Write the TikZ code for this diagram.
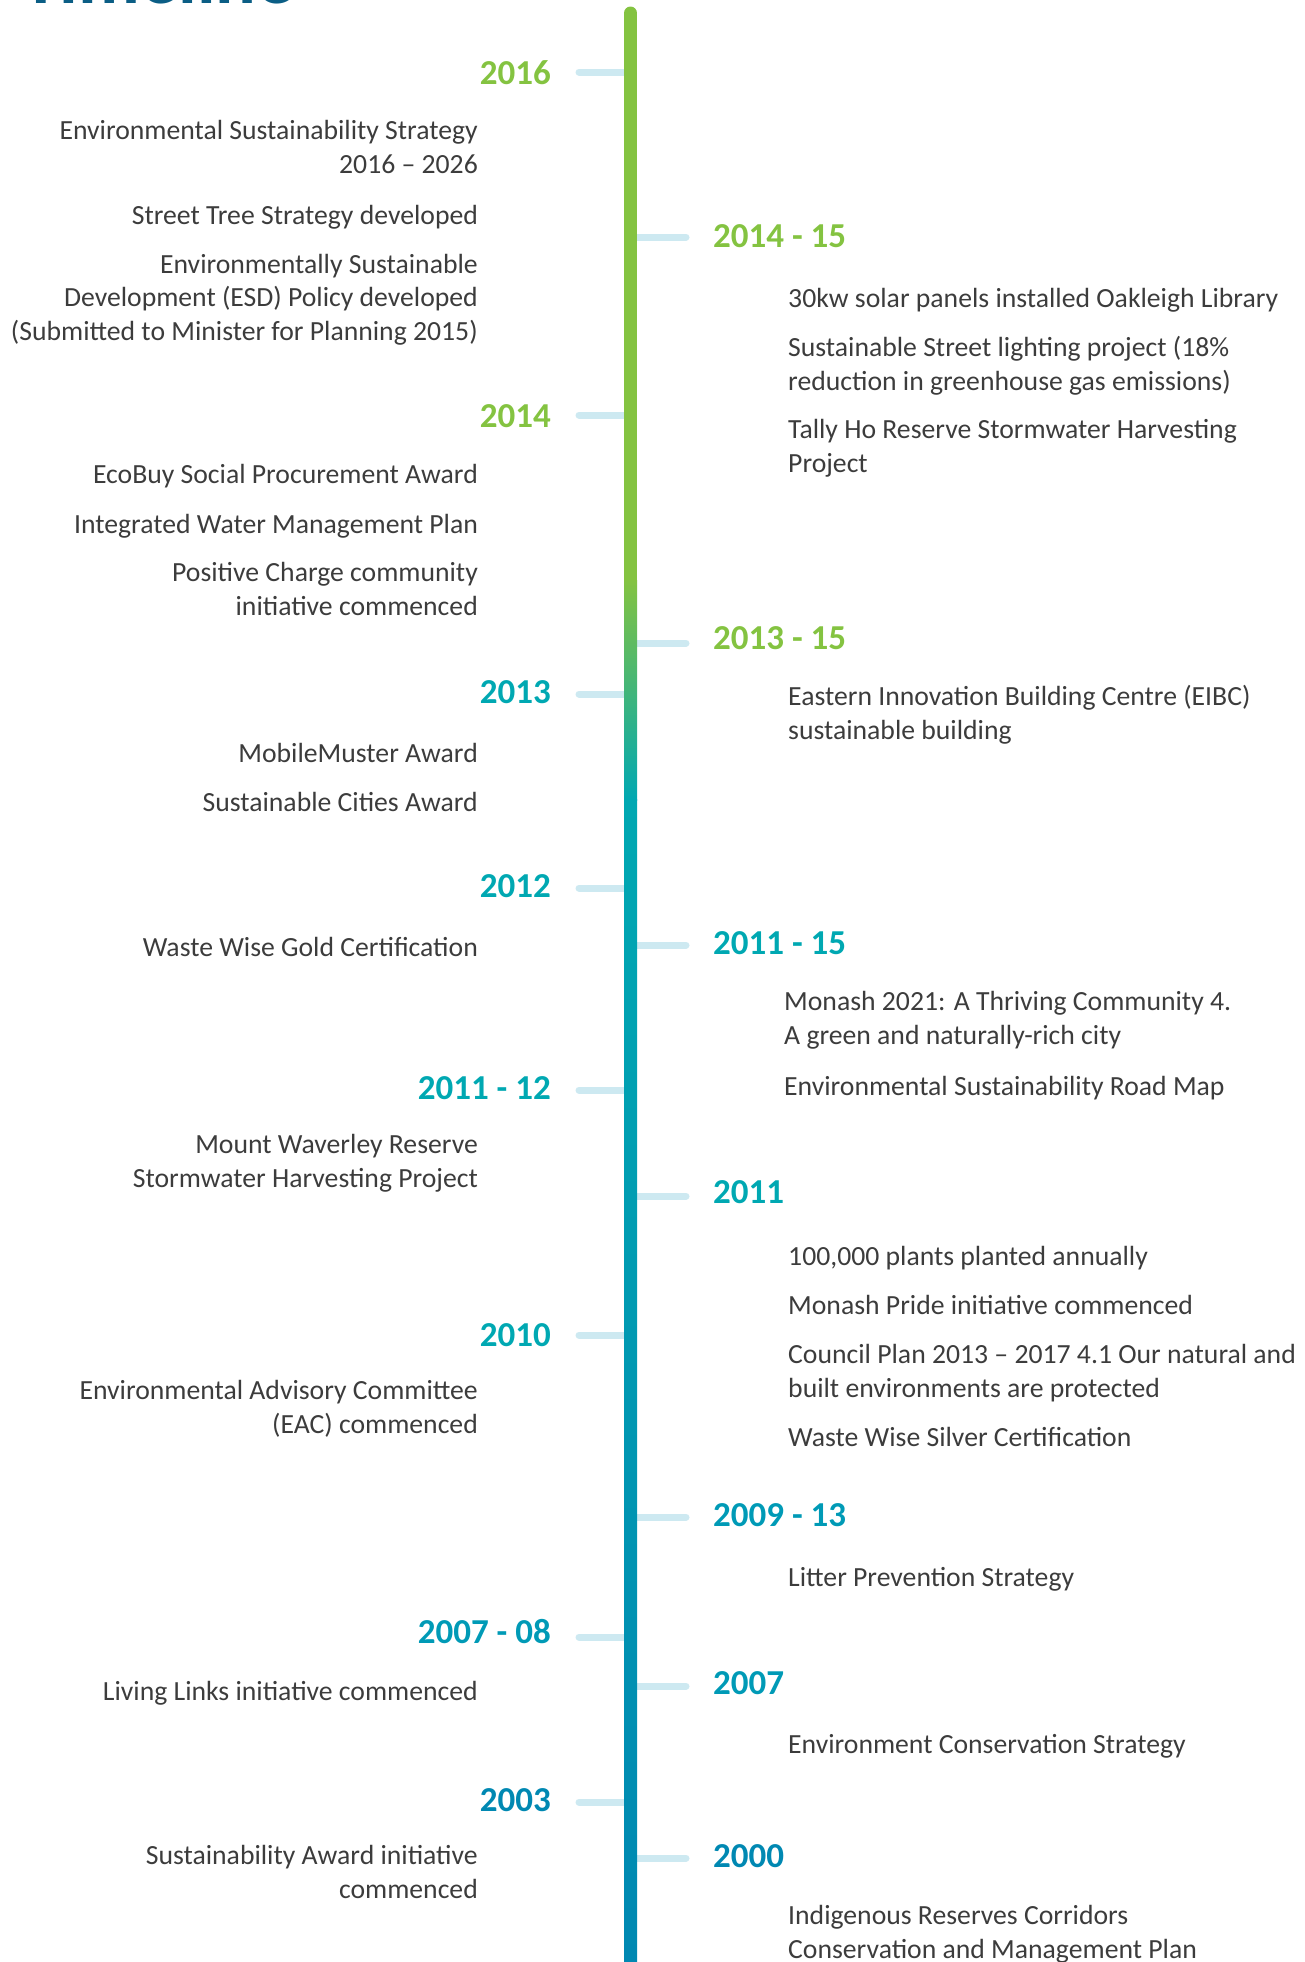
\documentclass[tikz,border=0pt]{standalone}
\usepackage{fontspec}
\setmainfont{Carlito}
\usepackage{xcolor}
\usetikzlibrary{positioning}
\definecolor{tlgreen}{HTML}{84C341}
\definecolor{tlteal}{HTML}{00A8B2}
\definecolor{tlmid}{HTML}{009AB6}
\definecolor{tlblue}{HTML}{0088B2}
\definecolor{tltick}{HTML}{CDE9F1}
\definecolor{tltext}{HTML}{3C3C3C}
\definecolor{tltitle}{HTML}{0B5E85}
\tikzset{
  year/.style={font=\fontsize{35}{42}\selectfont\bfseries, inner sep=0pt},
  entry/.style={font=\fontsize{27.7}{33.5}\selectfont, text=tltext, inner sep=0pt},
  lentry/.style={entry, anchor=base east, align=right},
  rentry/.style={entry, anchor=base west, align=left},
  yeartick/.style={tltick, line width=7pt, line cap=round}
}

\begin{document}
\begin{tikzpicture}[x=1pt, y=-1pt]
    \useasboundingbox (0,0) rectangle (1304,1962);

    % Title, mostly above the page
    \node[font=\fontsize{76}{80}\selectfont\bfseries, text=tltitle, anchor=base west, inner sep=0pt] (title) at (22,3) {Timeline};

    % Ticks on the left
    \foreach \nm/\yr/\yb/\yt/\col in {
        a/2016/84/72/tlgreen, b/2014/427/415/tlgreen, c/2013/703/694/tlteal,
        d/2012/897/888/tlteal, e/2011 - 12/1099/1090/tlteal, f/2010/1346/1335/tlteal,
        g/2007 - 08/1643/1637/tlmid, h/2003/1811/1802/tlblue} {
        \coordinate (lt\nm) at (579,\yt);
        \coordinate (lc\nm) at (630,\yt);
        \draw[yeartick] (lt\nm) -- (lc\nm);
        \node[year, text=\col, anchor=base east] (ly\nm) at (551,\yb) {\yr};
    }

    % Ticks on the right
    \foreach \nm/\yr/\yb/\yt/\col in {
        a/2014 - 15/247/237/tlgreen, b/2013 - 15/649/643/tlgreen, c/2011 - 15/954/945/tlteal,
        d/2011/1203/1196/tlteal, e/2009 - 13/1526/1517/tlmid, f/2007/1694/1686/tlmid,
        g/2000/1867/1858/tlblue} {
        \coordinate (rc\nm) at (630,\yt);
        \coordinate (rt\nm) at (686,\yt);
        \draw[yeartick] (rc\nm) -- (rt\nm);
        \node[year, text=\col, anchor=base west] (ry\nm) at (713,\yb) {\yr};
    }

    % The line itself
    \coordinate (top) at (630.5,13);
    \coordinate (mid) at (630.5,580);
    \draw[tlgreen, line width=13pt, line cap=round] (top) -- (mid);
    \shade[top color=tlgreen, bottom color=tlteal] (624,580) rectangle (637,800);
    \shade[top color=tlteal, bottom color=tlblue] (624,799) rectangle (637,1962);

    % Entries on the left (placed at the baseline of their last line)
    \node[lentry] (l1) at (478,173) {Environmental Sustainability Strategy\\2016 – 2026};
    \node[lentry] (l2) at (478,224) {Street Tree Strategy developed};
    \node[lentry] (l3) at (478,340) {Environmentally Sustainable\\Development (ESD) Policy developed\\(Submitted to Minister for Planning 2015)};
    \node[lentry] (l4) at (478,483) {EcoBuy Social Procurement Award};
    \node[lentry] (l5) at (478,533) {Integrated Water Management Plan};
    \node[lentry] (l6) at (478,615) {Positive Charge community\\initiative commenced};
    \node[lentry] (l7) at (478,762) {MobileMuster Award};
    \node[lentry] (l8) at (478,811) {Sustainable Cities Award};
    \node[lentry] (l9) at (478,956) {Waste Wise Gold Certification};
    \node[lentry] (l10) at (478,1187) {Mount Waverley Reserve\\Stormwater Harvesting Project};
    \node[lentry] (l11) at (478,1433) {Environmental Advisory Committee\\(EAC) commenced};
    \node[lentry] (l12) at (478,1700) {Living Links initiative commenced};
    \node[lentry] (l13) at (478,1898) {Sustainability Award initiative\\commenced};

    % Entries on the right
    \node[rentry] (r1) at (788,307) {30kw solar panels installed Oakleigh Library};
    \node[rentry] (r2) at (788,390) {Sustainable Street lighting project (18\%\\reduction in greenhouse gas emissions)};
    \node[rentry] (r3) at (788,472) {Tally Ho Reserve Stormwater Harvesting\\Project};
    \node[rentry] (r4) at (788,739) {Eastern Innovation Building Centre (EIBC)\\sustainable building};
    \node[rentry] (r5) at (784,1044) {Monash 2021: A Thriving Community 4.\\A green and naturally-rich city};
    \node[rentry] (r6) at (784,1095) {Environmental Sustainability Road Map};
    \node[rentry] (r7) at (788,1265) {100,000 plants planted annually};
    \node[rentry] (r8) at (788,1314) {Monash Pride initiative commenced};
    \node[rentry] (r9) at (788,1397) {Council Plan 2013 – 2017 4.1 Our natural and\\built environments are protected};
    \node[rentry] (r10) at (788,1446) {Waste Wise Silver Certification};
    \node[rentry] (r11) at (788,1586) {Litter Prevention Strategy};
    \node[rentry] (r12) at (788,1753) {Environment Conservation Strategy};
    \node[rentry] (r13) at (788,1958) {Indigenous Reserves Corridors\\Conservation and Management Plan};

\end{tikzpicture}
\end{document}
